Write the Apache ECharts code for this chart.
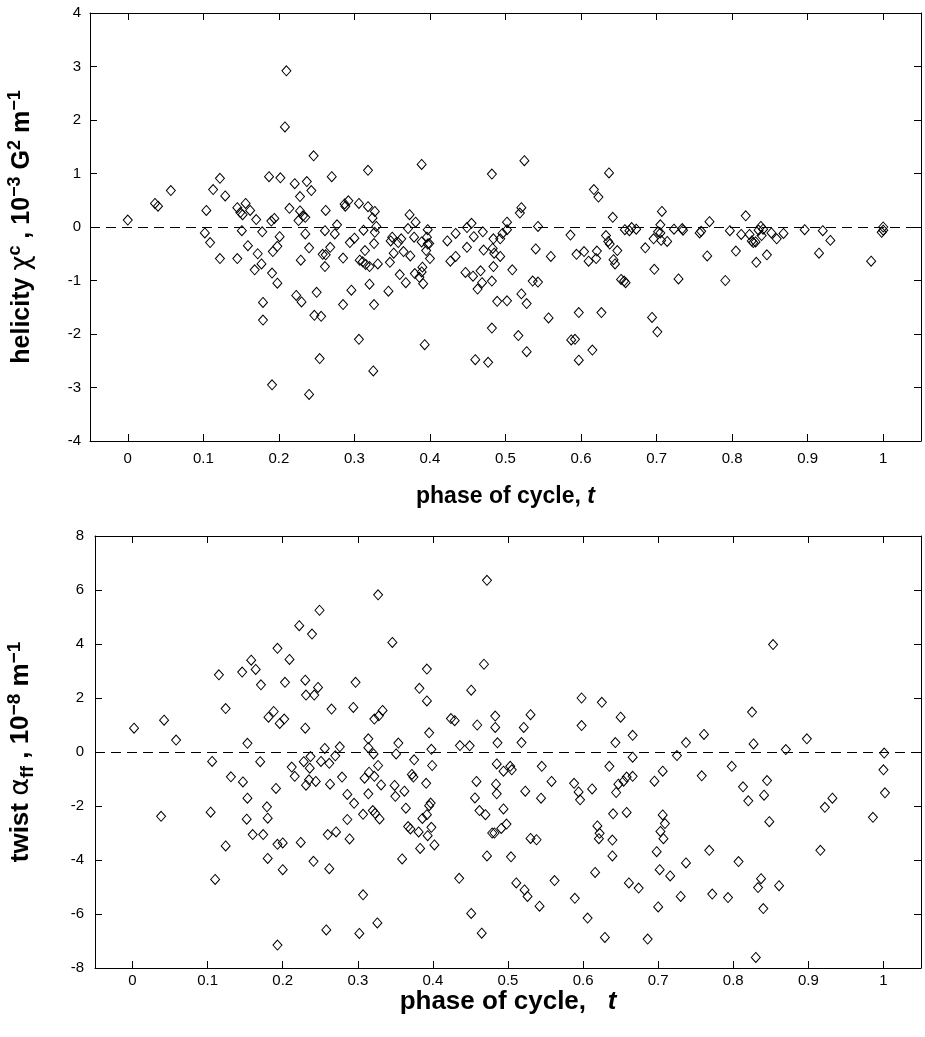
<!DOCTYPE html>
<html>
<head>
<meta charset="utf-8">
<script src="https://cdn.jsdelivr.net/npm/echarts@6/dist/echarts.min.js"></script>
<style>
  html, body { margin: 0; padding: 0; background: #fff; }
  #chart { width: 925px; height: 1037px; }
</style>
</head>
<body>
<div id="chart"></div>
<script>
// Phase-of-cycle tick positions shared by both panels
const phaseTicks = [0, 0.1, 0.2, 0.3, 0.4, 0.5, 0.6, 0.7, 0.8, 0.9, 1];

// Current helicity chi^c (1e-3 G^2 m^-1) against phase of cycle t
const helicityPoints = [
  [0.000,0.13],[0.036,0.44],[0.040,0.39],[0.057,0.68],[0.102,-0.11],[0.104,0.31],[0.109,-0.29],[0.113,0.70],
  [0.122,0.91],[0.122,-0.59],[0.129,0.58],[0.145,0.36],[0.145,-0.59],[0.149,0.27],[0.151,-0.07],[0.152,0.23],
  [0.156,0.44],[0.159,-0.35],[0.162,0.31],[0.168,-0.80],[0.170,0.14],[0.172,-0.50],[0.177,-0.69],[0.178,-0.09],
  [0.179,-1.41],[0.179,-1.74],[0.187,0.94],[0.190,0.11],[0.191,-0.86],[0.191,-2.95],[0.192,-0.46],[0.194,0.16],
  [0.198,-0.36],[0.198,-1.05],[0.201,-0.18],[0.202,0.92],[0.208,1.87],[0.210,2.92],[0.214,0.35],[0.221,0.81],
  [0.223,-1.28],[0.226,0.12],[0.228,0.57],[0.228,0.30],[0.229,-0.62],[0.230,-1.40],[0.232,0.21],[0.235,0.18],
  [0.235,-0.13],[0.237,0.85],[0.240,-0.39],[0.240,-3.13],[0.243,0.68],[0.246,1.33],[0.247,-1.65],[0.250,-1.22],
  [0.254,-2.46],[0.256,-1.67],[0.258,-0.51],[0.261,-0.74],[0.261,-0.07],[0.262,-0.52],[0.262,0.31],[0.268,-0.38],
  [0.270,0.94],[0.274,-0.13],[0.277,0.04],[0.285,-0.58],[0.285,-1.45],[0.287,0.43],[0.288,0.39],[0.292,0.49],
  [0.294,-0.29],[0.296,-1.18],[0.300,-0.21],[0.306,0.44],[0.306,-2.10],[0.307,-0.62],[0.312,-0.06],[0.311,-0.65],
  [0.314,-0.44],[0.315,-0.70],[0.318,1.06],[0.318,0.38],[0.320,-0.74],[0.320,-1.07],[0.324,0.17],[0.325,-2.69],
  [0.326,-0.31],[0.326,-1.45],[0.327,0.29],[0.327,-0.10],[0.329,0.01],[0.331,-0.69],[0.345,-1.20],[0.347,-0.66],
  [0.348,-0.26],[0.350,-0.19],[0.352,-0.49],[0.358,-0.29],[0.360,-0.89],[0.362,-0.22],[0.365,-0.46],[0.368,-1.04],
  [0.371,-0.03],[0.373,0.23],[0.374,-0.54],[0.379,-0.19],[0.380,-0.87],[0.381,0.09],[0.386,-0.94],[0.389,-0.84],
  [0.389,-0.28],[0.389,1.17],[0.390,-0.75],[0.391,-1.06],[0.393,-2.20],[0.395,-0.44],[0.396,-0.19],[0.397,-0.32],
  [0.397,-0.05],[0.399,-0.31],[0.400,-0.59],[0.423,-0.26],[0.427,-0.64],[0.434,-0.12],[0.434,-0.55],[0.447,-0.85],
  [0.449,-0.38],[0.449,-0.01],[0.455,0.07],[0.457,-0.92],[0.458,-0.18],[0.460,-2.48],[0.463,-1.16],[0.467,-0.82],
  [0.469,-1.04],[0.470,-0.09],[0.471,-0.43],[0.477,-2.53],[0.482,-1.89],[0.482,-1.01],[0.482,0.99],[0.483,-0.40],
  [0.484,-0.74],[0.484,-0.22],[0.485,-0.49],[0.489,-1.39],[0.493,-0.55],[0.493,-0.22],[0.496,-0.12],[0.502,-0.05],
  [0.502,0.09],[0.502,-1.38],[0.509,-0.80],[0.517,-2.03],[0.519,0.26],[0.521,-1.25],[0.521,0.36],[0.525,1.24],
  [0.528,-2.33],[0.528,-1.43],[0.536,-1.01],[0.540,-0.41],[0.543,-1.03],[0.543,0.01],[0.557,-1.70],[0.560,-0.55],
  [0.586,-0.15],[0.587,-2.11],[0.592,-2.10],[0.594,-0.51],[0.597,-1.60],[0.597,-2.49],[0.604,-0.46],[0.610,-0.64],
  [0.615,-2.30],[0.617,0.70],[0.620,-0.59],[0.621,-0.45],[0.623,0.56],[0.627,-1.60],[0.633,-0.16],[0.636,-0.27],
  [0.637,1.01],[0.638,-0.32],[0.642,0.18],[0.643,-0.61],[0.645,-0.69],[0.648,-0.44],[0.653,-0.98],[0.657,-1.01],
  [0.659,-1.04],[0.658,-0.05],[0.664,-0.07],[0.667,-0.01],[0.673,-0.04],[0.685,-0.39],[0.694,-1.69],[0.696,-0.22],
  [0.697,-0.79],[0.701,-1.96],[0.702,-0.09],[0.705,0.04],[0.705,-0.11],[0.706,-0.25],[0.707,0.29],[0.714,-0.27],
  [0.723,-0.04],[0.729,-0.97],[0.734,-0.03],[0.735,-0.06],[0.757,-0.11],[0.759,-0.08],[0.767,-0.54],[0.770,0.10],
  [0.791,-1.00],[0.797,-0.07],[0.805,-0.45],[0.812,-0.14],[0.818,0.21],[0.823,-0.14],[0.826,-0.26],[0.828,-0.29],
  [0.831,-0.28],[0.832,-0.66],[0.835,-0.06],[0.838,0.01],[0.839,-0.16],[0.841,-0.04],[0.846,-0.52],[0.852,-0.11],
  [0.859,-0.22],[0.868,-0.12],[0.896,-0.05],[0.915,-0.49],[0.920,-0.07],[0.930,-0.25],[0.984,-0.64],[0.998,-0.10],
  [1.000,-0.06],[1.000,0.00]
];

// Force-free twist alpha_ff (1e-8 m^-1) against phase of cycle t
const twistPoints = [
  [0.002,0.88],[0.038,-2.38],[0.042,1.18],[0.058,0.44],[0.104,-2.23],[0.106,-0.35],[0.110,-4.72],[0.115,2.86],
  [0.124,1.61],[0.124,-3.48],[0.131,-0.92],[0.146,2.96],[0.147,-1.11],[0.152,-2.49],[0.153,0.32],[0.153,-1.71],
  [0.158,3.40],[0.160,-3.06],[0.164,3.06],[0.170,-0.36],[0.171,2.49],[0.174,-3.06],[0.179,-2.03],[0.180,-2.45],
  [0.180,-3.94],[0.181,1.29],[0.188,1.50],[0.191,-1.35],[0.193,-3.42],[0.193,3.84],[0.193,-7.15],[0.196,1.06],
  [0.200,-3.37],[0.200,-4.36],[0.202,1.22],[0.203,2.58],[0.209,3.43],[0.212,-0.56],[0.216,-0.90],[0.222,4.68],
  [0.224,-3.35],[0.228,-0.36],[0.230,2.66],[0.230,0.88],[0.231,-1.23],[0.231,2.11],[0.235,-1.03],[0.236,-0.60],
  [0.237,-0.17],[0.239,4.37],[0.241,-4.05],[0.242,2.11],[0.244,-1.09],[0.247,2.39],[0.249,5.25],[0.251,-0.35],
  [0.256,0.13],[0.258,-6.59],[0.260,-3.06],[0.262,-0.42],[0.262,-4.32],[0.263,-1.19],[0.265,1.59],[0.270,-0.14],
  [0.271,-2.96],[0.276,0.19],[0.279,-0.93],[0.286,-2.50],[0.286,-1.57],[0.289,-3.22],[0.294,1.65],[0.295,-1.90],
  [0.297,2.58],[0.302,-6.72],[0.307,-2.31],[0.307,-5.29],[0.309,-0.97],[0.314,0.49],[0.314,0.16],[0.314,-1.55],
  [0.315,-0.75],[0.320,-2.17],[0.321,-0.07],[0.322,-0.90],[0.322,1.22],[0.323,-2.27],[0.326,-6.33],[0.327,5.82],
  [0.327,-0.50],[0.328,1.34],[0.329,-2.48],[0.331,-1.22],[0.333,1.54],[0.346,4.06],[0.349,-1.24],[0.350,-1.64],
  [0.351,-0.07],[0.354,0.33],[0.359,-3.96],[0.362,-1.45],[0.364,-2.08],[0.367,-2.76],[0.370,-2.85],[0.372,-0.83],
  [0.374,-0.93],[0.375,-0.29],[0.381,-2.96],[0.382,2.36],[0.383,-3.57],[0.386,-2.46],[0.391,-1.16],[0.392,3.07],
  [0.392,-2.32],[0.392,1.89],[0.393,-3.10],[0.395,0.71],[0.395,-1.99],[0.397,-1.89],[0.398,0.10],[0.398,-2.79],
  [0.399,-0.50],[0.402,-3.44],[0.424,1.24],[0.429,1.16],[0.435,-4.68],[0.436,0.24],[0.449,0.23],[0.451,2.29],
  [0.451,-5.98],[0.456,-1.70],[0.458,-1.09],[0.459,1.00],[0.462,-2.17],[0.465,-6.71],[0.468,3.25],[0.470,-2.32],
  [0.472,6.36],[0.472,-3.85],[0.479,-3.00],[0.482,-3.00],[0.483,1.33],[0.483,0.91],[0.484,-1.19],[0.485,-0.44],
  [0.485,-1.55],[0.486,0.34],[0.491,-2.83],[0.494,-0.71],[0.494,-2.11],[0.498,-2.67],[0.503,-0.53],[0.504,-3.88],
  [0.505,-0.66],[0.511,-4.85],[0.518,0.35],[0.521,0.91],[0.522,-5.11],[0.523,-1.45],[0.526,-5.35],[0.530,-3.20],
  [0.530,1.38],[0.538,-3.25],[0.542,-5.71],[0.544,-1.71],[0.545,-0.53],[0.558,-1.09],[0.562,-4.76],[0.588,-1.16],
  [0.589,-5.42],[0.594,-1.48],[0.596,-1.77],[0.598,2.00],[0.598,0.98],[0.606,-6.15],[0.612,-1.37],[0.616,-4.46],
  [0.619,-2.74],[0.621,-3.21],[0.622,-3.01],[0.625,1.84],[0.629,-6.87],[0.635,-0.53],[0.639,-3.26],[0.639,-3.85],
  [0.640,-2.29],[0.643,0.35],[0.644,-1.50],[0.647,-1.19],[0.650,1.29],[0.654,-1.08],[0.658,-0.93],[0.658,-2.24],
  [0.661,-4.85],[0.666,0.62],[0.666,-0.90],[0.666,-0.19],[0.674,-5.04],[0.686,-6.93],[0.695,-1.08],[0.698,-3.69],
  [0.700,-5.74],[0.702,-4.36],[0.703,-2.94],[0.706,-0.71],[0.706,-2.33],[0.707,-3.21],[0.709,-2.65],[0.716,-4.59],
  [0.725,-0.13],[0.730,-5.35],[0.737,0.35],[0.737,-4.11],[0.758,-0.88],[0.761,0.65],[0.768,-3.64],[0.772,-5.26],
  [0.793,-5.39],[0.798,-0.53],[0.807,-4.06],[0.813,-1.29],[0.820,-1.81],[0.825,1.48],[0.827,0.30],[0.830,-7.61],
  [0.833,-5.02],[0.837,-4.69],[0.840,-5.80],[0.841,-1.60],[0.845,-1.06],[0.848,-2.58],[0.853,3.98],[0.861,-4.95],
  [0.870,0.09],[0.898,0.49],[0.916,-3.64],[0.922,-2.05],[0.932,-1.71],[0.986,-2.42],[1.000,-0.66],[1.001,-0.04],
  [1.002,-1.51]
];

const FONT = '"Liberation Sans", Arial, Helvetica, sans-serif';
const GREEK = '"DejaVu Sans", "Liberation Serif", serif';

// Rich-text styles for axis titles: bold body text, Greek symbols, super/subscripts
function titleRich(size) {
  return {
    b:  { fontFamily: FONT, fontWeight: 'bold', fontSize: size, color: '#000', lineHeight: 32, verticalAlign: 'middle' },
    i:  { fontFamily: FONT, fontWeight: 'bold', fontStyle: 'italic', fontSize: size, color: '#000', lineHeight: 32, verticalAlign: 'middle' },
    g:  { fontFamily: GREEK, fontWeight: 'normal', fontSize: size + 1, color: '#000', lineHeight: 32, verticalAlign: 'middle' },
    up: { fontFamily: FONT, fontWeight: 'bold', fontSize: Math.round(size * 0.72), color: '#000', lineHeight: 17, verticalAlign: 'top' },
    dn: { fontFamily: FONT, fontWeight: 'bold', fontSize: Math.round(size * 0.68), color: '#000', lineHeight: 15, verticalAlign: 'bottom' }
  };
}

function phaseAxis(gridIndex, opts) {
  return Object.assign({
    type: 'value', gridIndex: gridIndex, min: -0.05, max: 1.05,
    axisLine: { show: true, onZero: false, lineStyle: { color: '#000', width: 1 } },
    axisTick: { show: true, inside: true, length: 7, customValues: phaseTicks, lineStyle: { color: '#000' } },
    axisLabel: { show: false },
    splitLine: { show: false }
  }, opts);
}

function phaseLabels(margin) {
  return { show: true, customValues: phaseTicks, fontFamily: FONT, fontSize: 15, color: '#000', margin: margin,
           formatter: v => String(Math.round(v * 10) / 10) };
}

function valueAxis(gridIndex, min, max, step, opts) {
  return Object.assign({
    type: 'value', gridIndex: gridIndex, min: min, max: max, interval: step,
    axisLine: { show: true, onZero: false, lineStyle: { color: '#000', width: 1 } },
    axisTick: { show: true, inside: true, length: 7, lineStyle: { color: '#000' } },
    axisLabel: { show: false },
    splitLine: { show: false }
  }, opts);
}

function scatter(xi, yi, points) {
  return {
    type: 'scatter', xAxisIndex: xi, yAxisIndex: yi, data: points,
    symbol: 'diamond', symbolSize: [9, 10],
    itemStyle: { color: 'rgba(0,0,0,0)', borderColor: '#000', borderWidth: 1, opacity: 1 },
    emphasis: { disabled: true }, silent: true,
    markLine: {
      silent: true, symbol: ['none', 'none'], label: { show: false },
      lineStyle: { color: '#000', width: 1, type: [10, 6] },
      emphasis: { disabled: true },
      data: [{ yAxis: 0 }]
    }
  };
}

const chart = echarts.init(document.getElementById('chart'), null, { renderer: 'canvas' });
chart.setOption({
  animation: false,
  backgroundColor: '#fff',
  grid: [
    { left: 90, top: 13, width: 831, height: 428, outerBoundsMode: 'none', containLabel: false },
    { left: 95, top: 536, width: 826, height: 432, outerBoundsMode: 'none', containLabel: false }
  ],
  xAxis: [
    phaseAxis(0, { position: 'bottom', axisLabel: phaseLabels(10),
      name: '{b|phase of cycle, }{i|t}', nameLocation: 'middle', nameGap: 40,
      nameTextStyle: { rich: titleRich(23) } }),
    phaseAxis(0, { position: 'top' }),
    phaseAxis(1, { position: 'bottom', axisLabel: phaseLabels(5),
      name: '{b|phase of cycle,   }{i|t}', nameLocation: 'middle', nameGap: 15,
      nameTextStyle: { rich: titleRich(26) } }),
    phaseAxis(1, { position: 'top' })
  ],
  yAxis: [
    valueAxis(0, -4, 4, 1, { position: 'left',
      axisLabel: { show: true, fontFamily: FONT, fontSize: 15, color: '#000', margin: 9 },
      name: '{b|helicity }{g|χ}{up|c}{b| , 10}{up|−3}{b| G}{up|2}{b| m}{up|−1}',
      nameLocation: 'middle', nameRotate: 90, nameGap: 52,
      nameTextStyle: { rich: titleRich(25) } }),
    valueAxis(0, -4, 4, 1, { position: 'right' }),
    valueAxis(1, -8, 8, 2, { position: 'left',
      axisLabel: { show: true, fontFamily: FONT, fontSize: 15, color: '#000', margin: 11 },
      name: '{b|twist }{g|α}{dn|ff}{b| , 10}{up|−8}{b| m}{up|−1}',
      nameLocation: 'middle', nameRotate: 90, nameGap: 58,
      nameTextStyle: { rich: titleRich(26) } }),
    valueAxis(1, -8, 8, 2, { position: 'right' })
  ],
  series: [
    scatter(0, 0, helicityPoints),
    scatter(2, 2, twistPoints)
  ]
});
</script>
</body>
</html>
